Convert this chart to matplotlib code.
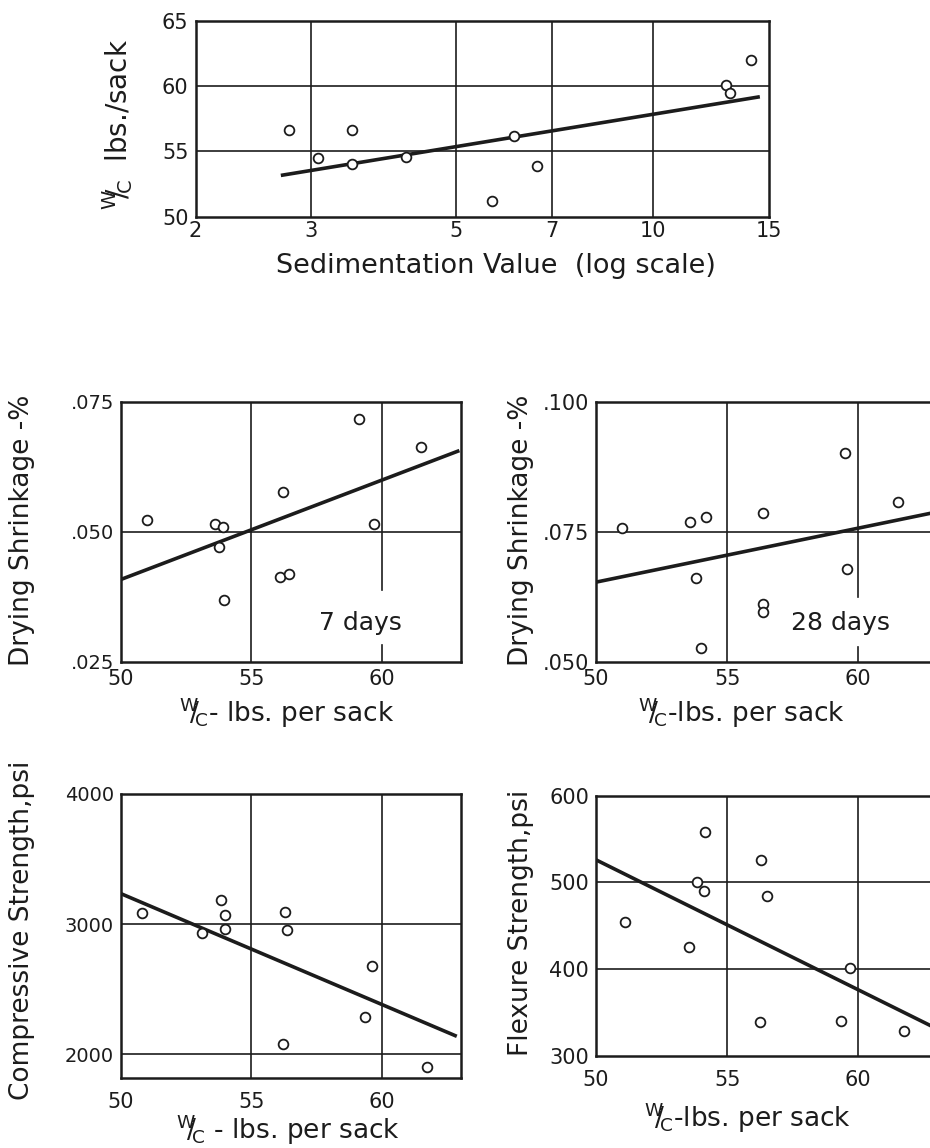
import matplotlib
matplotlib.use('Agg')
import matplotlib.pyplot as plt
from matplotlib.ticker import FixedLocator, NullLocator, FixedFormatter

plt.rcParams['font.family'] = 'DejaVu Sans'
plt.rcParams['mathtext.fontset'] = 'dejavusans'

INK = '#1c1c1c'
WC = r'$^{\mathrm{W}}\!\!/\!_{\mathrm{C}}$'

# sedimentation value vs water/cement
sed_value = [2.78, 3.08, 3.47, 3.47, 4.20, 5.68, 6.14, 6.64, 12.9, 13.1, 14.1]
sed_wc = [56.6, 54.5, 56.6, 54.0, 54.6, 51.2, 56.2, 53.85, 60.1, 59.45, 62.0]
sed_fit_x = [2.70, 14.55]
sed_fit_y = [53.16, 59.18]

# drying shrinkage, 7 days
shr7_wc = [51.0, 53.6, 53.9, 53.75, 53.95, 56.2, 56.1, 56.45, 59.1, 59.7, 61.5]
shr7 = [.0522, .0515, .0509, .0471, .0369, .0576, .0413, .0418, .0717, .0515, .0663]
shr7_fit_x = [50, 62.95]
shr7_fit_y = [.0408, .0656]

# drying shrinkage, 28 days
shr28_wc = [51.0, 53.6, 54.2, 53.8, 54.0, 56.35, 56.35, 56.35, 59.5, 59.55, 61.5]
shr28 = [.0758, .0768, .0779, .0661, .0526, .0786, .0611, .0596, .0901, .0679, .0807]
shr28_fit_x = [50, 63]
shr28_fit_y = [.0653, .0788]

# compressive strength
comp_wc = [50.8, 53.1, 53.85, 54.0, 54.0, 56.3, 56.35, 59.6, 59.35, 56.2, 61.7]
comp = [3084, 2929, 3186, 3069, 2959, 3094, 2952, 2679, 2283, 2082, 1903]
comp_fit_x = [50, 62.85]
comp_fit_y = [3235, 2138]

# flexure strength
flex_wc = [54.15, 56.3, 53.85, 54.1, 56.5, 51.1, 53.55, 59.7, 56.25, 59.35, 61.75]
flex = [558, 526, 500, 490, 484, 454, 426, 401, 339, 340, 329]
flex_fit_x = [50, 63]
flex_fit_y = [526, 331]

W, H = 930, 1148
fig = plt.figure(figsize=(W / 100, H / 100), dpi=100)


def box(x0, y0, x1, y1):
    return [x0 / W, 1 - y1 / H, (x1 - x0) / W, (y1 - y0) / H]


def label(x, y, s, rot=0, size=19):
    fig.text(x / W, 1 - y / H, s, rotation=rot, ha='center', va='center',
             fontsize=size, color=INK)


def panel(rect, xlim, ylim, xticks, xlabels, yticks, ylabels, xs, ys, fx, fy,
          log=False, xsize=15, ysize=15, xpad=5):
    ax = fig.add_axes(rect)
    if log:
        ax.set_xscale('log')
    ax.set_xlim(*xlim)
    ax.set_ylim(*ylim)
    ax.xaxis.set_major_locator(FixedLocator(xticks))
    ax.xaxis.set_major_formatter(FixedFormatter(xlabels))
    ax.xaxis.set_minor_locator(NullLocator())
    ax.yaxis.set_major_locator(FixedLocator(yticks))
    ax.yaxis.set_major_formatter(FixedFormatter(ylabels))
    ax.tick_params(which='both', length=0, colors=INK)
    ax.tick_params(axis='x', labelsize=xsize, pad=xpad)
    ax.tick_params(axis='y', labelsize=ysize, pad=5)
    for s in ax.spines.values():
        s.set_linewidth(1.8)
        s.set_color(INK)
    ax.plot(fx, fy, color=INK, lw=2.6, solid_capstyle='butt', zorder=3)
    ax.plot(xs, ys, 'o', ms=7, mfc='white', mec=INK, mew=1.3, zorder=4)
    return ax


def grid(ax, xv=(), yv=()):
    for v in xv:
        ax.axvline(v, color=INK, lw=1.2, zorder=1)
    for v in yv:
        ax.axhline(v, color=INK, lw=1.2, zorder=1)


# top: log-scale sedimentation plot
ax0 = panel(box(195.5, 20.7, 768.5, 216.7), (2, 15), (50, 65),
            [2, 3, 5, 7, 10, 15], ['2', '3', '5', '7', '10', '15'],
            [50, 55, 60, 65], ['50', '55', '60', '65'],
            sed_value, sed_wc, sed_fit_x, sed_fit_y, log=True,
            xsize=15, ysize=15, xpad=3)
grid(ax0, [3, 5, 7, 10], [55, 60])
label(118, 124, WC + '  lbs./sack', rot=90, size=20)
label(496, 266, 'Sedimentation Value  (log scale)', size=19.5)

# drying shrinkage, 7 days
ax1 = panel(box(120.7, 401.7, 460.7, 661.7), (50, 63), (.025, .075),
            [50, 55, 60], ['50', '55', '60'],
            [.025, .050, .075], ['.025', '.050', '.075'],
            shr7_wc, shr7, shr7_fit_x, shr7_fit_y, ysize=14)
grid(ax1, [55], [.050])
ax1.axvline(60, ymin=0.276, ymax=1, color=INK, lw=1.2, zorder=1)
ax1.axvline(60, ymin=0, ymax=0.064, color=INK, lw=1.2, zorder=1)
ax1.text(0.704, 0.147, '7 days', transform=ax1.transAxes, ha='center',
         va='center', fontsize=18, color=INK)
label(22, 530, 'Drying Shrinkage -%', rot=90)
label(287, 713, WC + '- lbs. per sack')

# drying shrinkage, 28 days
ax2 = panel(box(596, 401.7, 937, 661.7), (50, 63), (.050, .100),
            [50, 55, 60], ['50', '55', '60'],
            [.050, .075, .100], ['.050', '.075', '.100'],
            shr28_wc, shr28, shr28_fit_x, shr28_fit_y)
grid(ax2, [55], [.075])
ax2.axvline(60, ymin=0.25, ymax=1, color=INK, lw=1.2, zorder=1)
ax2.axvline(60, ymin=0, ymax=0.055, color=INK, lw=1.2, zorder=1)
ax2.text(0.718, 0.147, '28 days', transform=ax2.transAxes, ha='center',
         va='center', fontsize=18, color=INK)
label(521, 530, 'Drying Shrinkage -%', rot=90)
label(742, 713, WC + '-lbs. per sack')

# compressive strength
ax3 = panel(box(120.7, 794, 460.7, 1077.7), (50, 63), (1820, 4000),
            [50, 55, 60], ['50', '55', '60'],
            [2000, 3000, 4000], ['2000', '3000', '4000'],
            comp_wc, comp, comp_fit_x, comp_fit_y, ysize=14, xpad=10)
grid(ax3, [55, 60], [2000, 3000])
label(22, 930, 'Compressive Strength,psi', rot=90)
label(288, 1130, WC + ' - lbs. per sack')

# flexure strength
ax4 = panel(box(596, 795.7, 937, 1055.7), (50, 63), (300, 600),
            [50, 55, 60], ['50', '55', '60'],
            [300, 400, 500, 600], ['300', '400', '500', '600'],
            flex_wc, flex, flex_fit_x, flex_fit_y, xpad=10)
grid(ax4, [55, 60], [400, 500])
label(521, 923, 'Flexure Strength,psi', rot=90)
label(748, 1118, WC + '-lbs. per sack')

fig.savefig('out.png', dpi=100, facecolor='white')
